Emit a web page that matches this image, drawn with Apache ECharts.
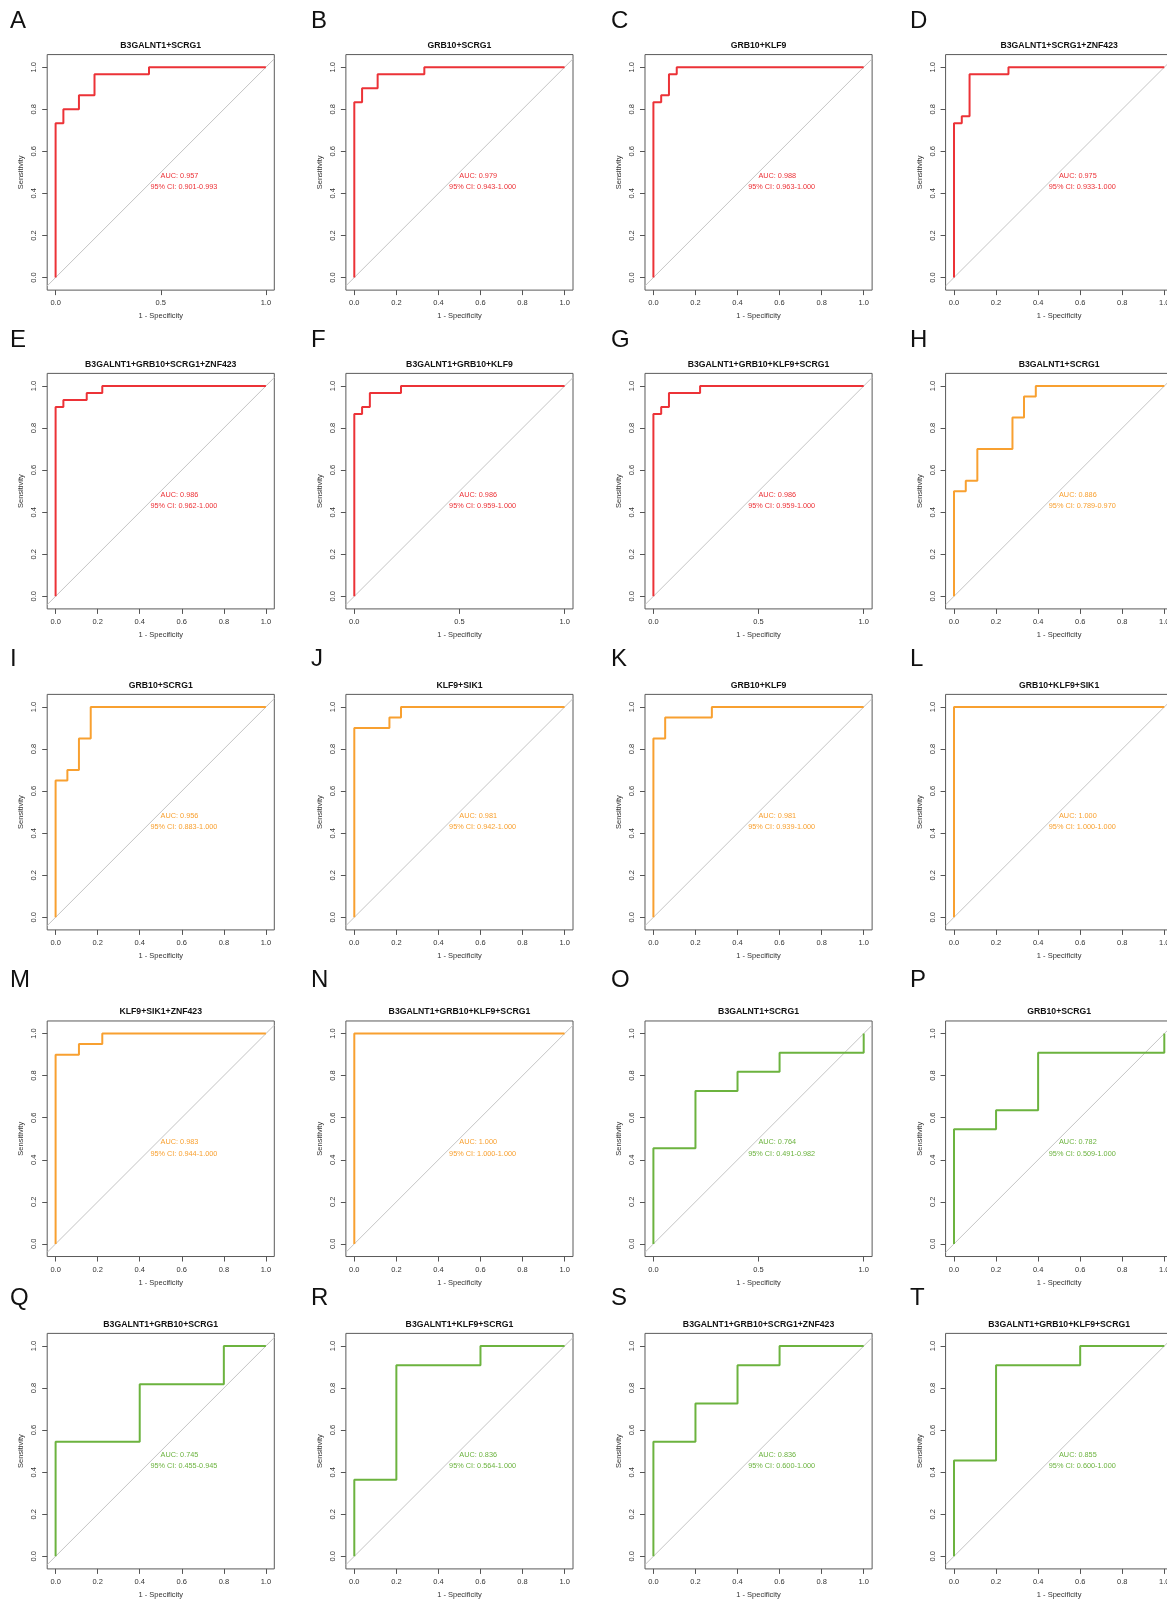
<!DOCTYPE html>
<html><head><meta charset="utf-8">
<script src="https://cdn.jsdelivr.net/npm/echarts@6/dist/echarts.min.js"></script>
<style>html,body{margin:0;padding:0;background:#fff}#c{width:1167px;height:1601px}</style>
</head><body><div id="c"></div>
<script>
// ---------- data ----------
const panelLetters = ['A','B','C','D','E','F','G','H','I','J','K','L','M','N','O','P','Q','R','S','T'];
const panelTitles = [
  'B3GALNT1+SCRG1','GRB10+SCRG1','GRB10+KLF9','B3GALNT1+SCRG1+ZNF423',
  'B3GALNT1+GRB10+SCRG1+ZNF423','B3GALNT1+GRB10+KLF9','B3GALNT1+GRB10+KLF9+SCRG1','B3GALNT1+SCRG1',
  'GRB10+SCRG1','KLF9+SIK1','GRB10+KLF9','GRB10+KLF9+SIK1',
  'KLF9+SIK1+ZNF423','B3GALNT1+GRB10+KLF9+SCRG1','B3GALNT1+SCRG1','GRB10+SCRG1',
  'B3GALNT1+GRB10+SCRG1','B3GALNT1+KLF9+SCRG1','B3GALNT1+GRB10+SCRG1+ZNF423','B3GALNT1+GRB10+KLF9+SCRG1'
];
const aucValues = ['0.957','0.979','0.988','0.975','0.986','0.986','0.986','0.886','0.956','0.981',
                   '0.981','1.000','0.983','1.000','0.764','0.782','0.745','0.836','0.836','0.855'];
const ciValues = ['0.901-0.993','0.943-1.000','0.963-1.000','0.933-1.000','0.962-1.000','0.959-1.000',
                  '0.959-1.000','0.789-0.970','0.883-1.000','0.942-1.000','0.939-1.000','1.000-1.000',
                  '0.944-1.000','1.000-1.000','0.491-0.982','0.509-1.000','0.455-0.945','0.564-1.000',
                  '0.600-1.000','0.600-1.000'];
const panelGroup = ['red','red','red','red','red','red','red','orange','orange','orange',
                    'orange','orange','orange','orange','green','green','green','green','green','green'];
const xTicksFine = [0, 0.2, 0.4, 0.6, 0.8, 1.0];
const xTicksCoarse = [0, 0.5, 1.0];
const yTicks = [0, 0.2, 0.4, 0.6, 0.8, 1.0];
const coarseXPanels = ['A','F','G','O'];

// ROC curves: [1 - specificity, sensitivity]
const rocA = [[0,0],[0,0.733],[0.037,0.733],[0.037,0.8],[0.111,0.8],[0.111,0.867],[0.185,0.867],[0.185,0.967],[0.444,0.967],[0.444,1],[1,1]];
const rocB = [[0,0],[0,0.833],[0.037,0.833],[0.037,0.9],[0.111,0.9],[0.111,0.967],[0.333,0.967],[0.333,1],[1,1]];
const rocC = [[0,0],[0,0.833],[0.037,0.833],[0.037,0.867],[0.074,0.867],[0.074,0.967],[0.111,0.967],[0.111,1],[1,1]];
const rocD = [[0,0],[0,0.733],[0.037,0.733],[0.037,0.767],[0.074,0.767],[0.074,0.967],[0.259,0.967],[0.259,1],[1,1]];
const rocE = [[0,0],[0,0.9],[0.037,0.9],[0.037,0.933],[0.148,0.933],[0.148,0.967],[0.222,0.967],[0.222,1],[1,1]];
const rocF = [[0,0],[0,0.867],[0.037,0.867],[0.037,0.9],[0.074,0.9],[0.074,0.967],[0.222,0.967],[0.222,1],[1,1]];
const rocG = [[0,0],[0,0.867],[0.037,0.867],[0.037,0.9],[0.074,0.9],[0.074,0.967],[0.222,0.967],[0.222,1],[1,1]];
const rocH = [[0,0],[0,0.5],[0.056,0.5],[0.056,0.55],[0.111,0.55],[0.111,0.7],[0.278,0.7],[0.278,0.85],[0.333,0.85],[0.333,0.95],[0.389,0.95],[0.389,1],[1,1]];
const rocI = [[0,0],[0,0.65],[0.056,0.65],[0.056,0.7],[0.111,0.7],[0.111,0.85],[0.167,0.85],[0.167,1],[1,1]];
const rocJ = [[0,0],[0,0.9],[0.167,0.9],[0.167,0.95],[0.222,0.95],[0.222,1],[1,1]];
const rocK = [[0,0],[0,0.85],[0.056,0.85],[0.056,0.95],[0.278,0.95],[0.278,1],[1,1]];
const rocL = [[0,0],[0,1],[1,1]];
const rocM = [[0,0],[0,0.9],[0.111,0.9],[0.111,0.95],[0.222,0.95],[0.222,1],[1,1]];
const rocN = [[0,0],[0,1],[1,1]];
const rocO = [[0,0],[0,0.455],[0.2,0.455],[0.2,0.727],[0.4,0.727],[0.4,0.818],[0.6,0.818],[0.6,0.909],[1,0.909],[1,1]];
const rocP = [[0,0],[0,0.545],[0.2,0.545],[0.2,0.636],[0.4,0.636],[0.4,0.909],[1,0.909],[1,1]];
const rocQ = [[0,0],[0,0.545],[0.4,0.545],[0.4,0.818],[0.8,0.818],[0.8,1],[1,1]];
const rocR = [[0,0],[0,0.364],[0.2,0.364],[0.2,0.909],[0.6,0.909],[0.6,1],[1,1]];
const rocS = [[0,0],[0,0.545],[0.2,0.545],[0.2,0.727],[0.4,0.727],[0.4,0.909],[0.6,0.909],[0.6,1],[1,1]];
const rocT = [[0,0],[0,0.455],[0.2,0.455],[0.2,0.909],[0.6,0.909],[0.6,1],[1,1]];
const rocCurves = [rocA,rocB,rocC,rocD,rocE,rocF,rocG,rocH,rocI,rocJ,rocK,rocL,rocM,rocN,rocO,rocP,rocQ,rocR,rocS,rocT];

// ---------- layout / style ----------
const colors = { red: '#EC3237', orange: '#F8A030', green: '#6CB33F' };
const FONT = '"Liberation Sans", Arial, Helvetica, sans-serif';
const colX0 = [55.6, 354.3, 653.4, 954.0];      // pixel of x = 0
const rowY1 = [67.2, 386.0, 707.0, 1033.6, 1346.0]; // pixel of y = 1
const UNIT = 210.3;
const XMIN = -0.04, XMAX = 1.04, YMIN = -0.06, YMAX = 1.06;
const letterX = [10, 311, 611, 910];
const letterY = [21, 340, 659, 980, 1298];

const grids = [], xAxes = [], yAxes = [], series = [];
for (let i = 0; i < 20; i++) {
  const c = i % 4, r = Math.floor(i / 4);
  grids.push({
    left: colX0[c] + XMIN * UNIT, width: (XMAX - XMIN) * UNIT,
    top: rowY1[r] - (YMAX - 1) * UNIT, height: (YMAX - YMIN) * UNIT,
    show: true, borderColor: '#5a5a5a', borderWidth: 1, backgroundColor: 'transparent',
    containLabel: false, outerBoundsMode: 'none'
  });
  const xt = coarseXPanels.includes(panelLetters[i]) ? xTicksCoarse : xTicksFine;
  xAxes.push({
    gridIndex: i, type: 'value', min: XMIN, max: XMAX,
    axisLine: { show: false, onZero: false }, splitLine: { show: false },
    axisTick: { show: true, length: 5, customValues: xt, lineStyle: { color: '#555', width: 1 } },
    axisLabel: { customValues: xt, formatter: v => v.toFixed(1), margin: 9, fontSize: 7.5, color: '#333', fontFamily: FONT },
    name: '1 - Specificity', nameLocation: 'middle', nameGap: 22,
    nameTextStyle: { fontSize: 7.5, color: '#333', fontFamily: FONT }
  });
  yAxes.push({
    gridIndex: i, type: 'value', min: YMIN, max: YMAX,
    axisLine: { show: false, onZero: false }, splitLine: { show: false },
    axisTick: { show: true, length: 5, customValues: yTicks, lineStyle: { color: '#555', width: 1 } },
    axisLabel: { customValues: yTicks, formatter: v => v.toFixed(1), rotate: 90, margin: 9, fontSize: 7.5, color: '#333', fontFamily: FONT },
    name: 'Sensitivity', nameLocation: 'middle', nameGap: 22, nameRotate: 90,
    nameTextStyle: { fontSize: 7.5, color: '#333', fontFamily: FONT }
  });
  series.push({
    type: 'line', xAxisIndex: i, yAxisIndex: i, data: [[XMIN, XMIN], [XMAX, XMAX]],
    symbol: 'none', silent: true, clip: true, z: 2,
    lineStyle: { color: '#c4c4c4', width: 1 }
  });
  series.push({
    type: 'line', xAxisIndex: i, yAxisIndex: i, data: rocCurves[i],
    symbol: 'none', silent: true, clip: true, z: 3,
    lineStyle: { color: colors[panelGroup[i]], width: 2 }
  });
}

const chart = echarts.init(document.getElementById('c'), null, { renderer: 'canvas' });
chart.setOption({
  animation: false, backgroundColor: '#fff',
  grid: grids, xAxis: xAxes, yAxis: yAxes, series: series
});

// text annotations placed via the library's coordinate conversion
const graphics = [];
for (let i = 0; i < 20; i++) {
  const c = i % 4, r = Math.floor(i / 4);
  const col = colors[panelGroup[i]];
  const top = chart.convertToPixel({ gridIndex: i }, [0.5, YMAX]);
  graphics.push({ type: 'text', x: top[0], y: top[1] - 9, silent: true,
    style: { text: panelTitles[i], font: 'bold 8.7px ' + FONT, fill: '#111', align: 'center', verticalAlign: 'middle' } });
  const p1 = chart.convertToPixel({ gridIndex: i }, [0.589, 0.483]);
  graphics.push({ type: 'text', x: p1[0], y: p1[1], silent: true, z: 10,
    style: { text: 'AUC: ' + aucValues[i], font: '7.3px ' + FONT, fill: col, align: 'center', verticalAlign: 'middle' } });
  const p2 = chart.convertToPixel({ gridIndex: i }, [0.610, 0.428]);
  graphics.push({ type: 'text', x: p2[0], y: p2[1], silent: true, z: 10,
    style: { text: '95% CI: ' + ciValues[i], font: '7.3px ' + FONT, fill: col, align: 'center', verticalAlign: 'middle' } });
  graphics.push({ type: 'text', x: letterX[c], y: letterY[r], silent: true,
    style: { text: panelLetters[i], font: '24px ' + FONT, fill: '#111', align: 'left', verticalAlign: 'middle' } });
}
chart.setOption({ graphic: graphics });
</script></body></html>
